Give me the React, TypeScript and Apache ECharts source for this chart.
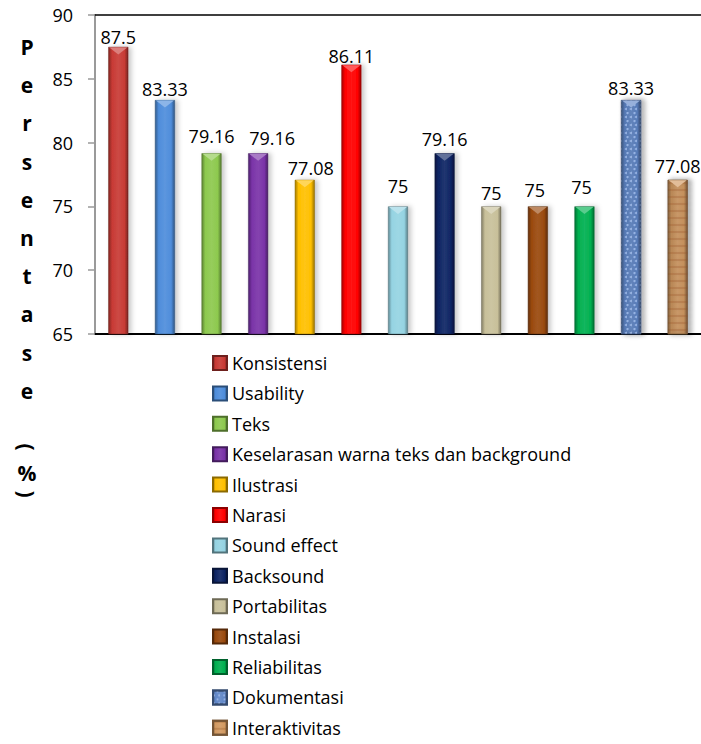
import React, { useEffect, useRef } from "react";
import * as echarts from "echarts";

const categories = [
  "Konsistensi",
  "Usability",
  "Teks",
  "Keselarasan warna teks dan background",
  "Ilustrasi",
  "Narasi",
  "Sound effect",
  "Backsound",
  "Portabilitas",
  "Instalasi",
  "Reliabilitas",
  "Dokumentasi",
  "Interaktivitas",
];
const values = [87.5, 83.33, 79.16, 79.16, 77.08, 86.11, 75, 79.16, 75, 75, 75, 83.33, 77.08];
const colors = [
  "#C83A35",
  "#4E8DDB",
  "#8DC94E",
  "#7A33A8",
  "#FFC000",
  "#FF0000",
  "#95D3E2",
  "#0E2564",
  "#C8C09A",
  "#9A4A0E",
  "#00B050",
  "#5F86C8",
  "#D29A62",
];
const yTicks = { min: 65, max: 90, interval: 5 };
const titleLetters = ["P", "e", "r", "s", "e", "n", "t", "a", "s", "e"];
const titleParen = ["(", "%", ")"];

// label placement tweaks (pixels), as in the reference
const labelGap = [3, 5, 11, 9, 5, 2, 14, 8, 7, 10, 13, 6, 7];
const labelDx = [0, 0, 0, 14, 6, 0, 0, 0, 0, -3, -3, 0, 0];

const FONT = "'Open Sans', 'DejaVu Sans', sans-serif";

function shade(hex: string, f: number): string {
  const n = parseInt(hex.slice(1), 16);
  let r = (n >> 16) & 255,
    g = (n >> 8) & 255,
    b = n & 255;
  if (f < 0) {
    r = Math.round(r * (1 + f));
    g = Math.round(g * (1 + f));
    b = Math.round(b * (1 + f));
  } else {
    r = Math.round(r + (255 - r) * f);
    g = Math.round(g + (255 - g) * f);
    b = Math.round(b + (255 - b) * f);
  }
  return `rgb(${r},${g},${b})`;
}

function barFill(c: string) {
  return new echarts.graphic.LinearGradient(0, 0, 1, 0, [
    { offset: 0, color: shade(c, -0.35) },
    { offset: 0.18, color: c },
    { offset: 0.5, color: shade(c, 0.08) },
    { offset: 0.82, color: c },
    { offset: 1, color: shade(c, -0.4) },
  ]);
}

const decals: Record<number, any> = {
  11: {
    symbol: "circle",
    symbolSize: 1,
    color: "rgba(195,215,250,0.55)",
    dashArrayX: [
      [2, 3],
      [1, 2, 3, 1],
    ],
    dashArrayY: [2, 2],
    rotation: 0,
  },
  12: {
    symbol: "rect",
    symbolSize: 1,
    color: "rgba(130,70,25,0.25)",
    dashArrayX: [1, 0],
    dashArrayY: [2, 5],
    rotation: 0,
  },
};

export default function App() {
  const ref = useRef<HTMLDivElement>(null);
  useEffect(() => {
    if (!ref.current) return;
    const chart = echarts.init(ref.current, undefined, { renderer: "svg" });
    const series = categories.map((name, i) => ({
      name,
      type: "bar",
      stack: "all",
      barWidth: 20,
      data: categories.map((_, j) => (j === i ? values[i] : "-")),
      itemStyle: {
        color: barFill(colors[i]),
        borderColor: shade(colors[i], -0.45),
        borderWidth: 0.5,
        shadowColor: "rgba(0,0,0,0.22)",
        shadowBlur: 5,
        shadowOffsetX: 3,
        decal: decals[i],
      },
      label: {
        show: true,
        position: "top",
        distance: 0,
        offset: [labelDx[i], -(labelGap[i] - 2.5)],
        color: "#000",
        fontSize: 18,
        fontFamily: FONT,
      },
      markPoint: {
        silent: true,
        symbol: "triangle",
        symbolSize: [18, 7],
        symbolRotate: 180,
        symbolOffset: [0, 4],
        itemStyle: { color: shade(colors[i], 0.35), shadowBlur: 0 },
        label: { show: false },
        data: [{ coord: [i, values[i]] }],
      },
    }));
    const graphics: any[] = [];
    titleLetters.forEach((ch, i) => {
      graphics.push({
        type: "text",
        x: 27,
        y: 47 + i * 38.2,
        style: {
          text: ch,
          fontSize: 21,
          fontWeight: "bold",
          fontFamily: FONT,
          fill: "#000",
          align: "center",
          verticalAlign: "middle",
        },
      });
    });
    const parenY = [447, 473, 494];
    titleParen.forEach((ch, i) => {
      graphics.push({
        type: "text",
        x: 27,
        y: parenY[i],
        rotation: ch === "%" ? 0 : -Math.PI / 2,
        style: {
          text: ch,
          fontSize: 21,
          fontWeight: "bold",
          fontFamily: FONT,
          fill: "#000",
          align: "center",
          verticalAlign: "middle",
        },
      });
    });
    chart.setOption({
      animation: false,
      textStyle: { fontFamily: FONT },
      grid: { left: 95, top: 15, bottom: 410, right: -7, containLabel: false },
      xAxis: [
        {
          type: "category",
          data: categories,
          position: "bottom",
          axisLine: { show: true, lineStyle: { color: "#000", width: 2 } },
          axisTick: { show: false },
          axisLabel: { show: false },
        },
        {
          type: "category",
          data: categories,
          position: "top",
          axisLine: { show: true, lineStyle: { color: "#000", width: 1.5 } },
          axisTick: { show: false },
          axisLabel: { show: false },
        },
      ],
      yAxis: {
        type: "value",
        min: yTicks.min,
        max: yTicks.max,
        interval: yTicks.interval,
        axisLine: { show: true, lineStyle: { color: "#9A9A9A", width: 2 } },
        axisTick: { show: true, length: 7, lineStyle: { color: "#9A9A9A", width: 1.5 } },
        splitLine: { show: false },
        axisLabel: { color: "#000", fontSize: 18, fontFamily: FONT, margin: 22 },
      },
      legend: {
        orient: "vertical",
        left: 212,
        top: 354,
        height: 420,
        padding: 0,
        itemWidth: 14,
        itemHeight: 14,
        itemGap: 12.4,
        icon: "rect",
        textStyle: { fontSize: 18, lineHeight: 18, color: "#000", fontFamily: FONT },
        data: categories,
      },
      graphic: graphics,
      series,
    });
    return () => chart.dispose();
  }, []);
  return (
    <div
      ref={ref}
      style={{ position: "absolute", left: 0, top: 0, width: 701, height: 744, background: "#fff" }}
    />
  );
}
